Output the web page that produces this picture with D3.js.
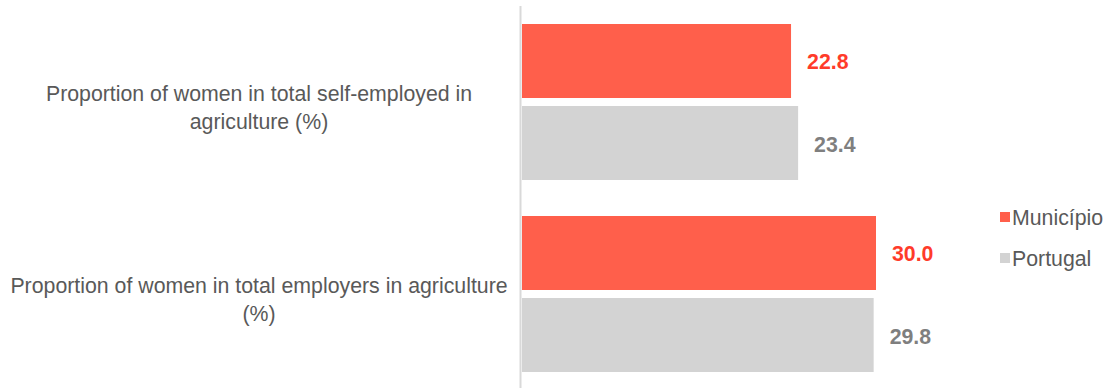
<!DOCTYPE html>
<html>
<head>
<meta charset="utf-8">
<script src="https://cdn.jsdelivr.net/npm/d3@7"></script>
<style>
  body { margin: 0; background: #fff; }
  text { font-family: "Liberation Sans", Arial, sans-serif; }
</style>
</head>
<body>
<script>
//the chart data
let categories = [
	"Proportion of women in total self-employed in agriculture (%)",
	"Proportion of women in total employers in agriculture (%)"
];
let seriesNames = ["Município", "Portugal"];
let municipio = [22.8, 30.0];
let portugal = [23.4, 29.8];

let barColors = ["#ff5f4b", "#d3d3d3"];
let labelColors = ["#ff3b2a", "#7f7f7f"];

let svg = d3.select("body").append("svg")
	.attr("width", 1110)
	.attr("height", 388);

let rows = categories.map((c, i) => ({
	category: c,
	values: [municipio[i], portugal[i]]
}));

//x scale: value to pixels, starts at the axis line
let scaleX = d3.scaleLinear()
	.domain([0, 30])
	.range([522, 876]);

//y scale for the categories
let scaleY = d3.scaleBand()
	.domain(categories)
	.range([6, 390])
	.paddingInner(0.1875)
	.paddingOuter(0.09375);

//inner scale for the two series inside a category
let scaleS = d3.scaleBand()
	.domain(seriesNames)
	.range([0, scaleY.bandwidth()])
	.paddingInner(0.0976);

//vertical axis line
svg.append("line")
	.attr("x1", 520.5).attr("x2", 520.5)
	.attr("y1", scaleY.range()[0]).attr("y2", scaleY.range()[1])
	.attr("stroke", "#d9d9d9")
	.attr("stroke-width", 2);

let groups = svg.selectAll("g.cat").data(rows).enter().append("g")
	.attr("class", "cat")
	.attr("transform", d => `translate(0, ${scaleY(d.category)})`);

groups.selectAll("rect").data(d => d.values).enter().append("rect")
	.attr("x", scaleX(0))
	.attr("y", (v, i) => scaleS(seriesNames[i]))
	.attr("width", v => scaleX(v) - scaleX(0))
	.attr("height", scaleS.bandwidth())
	.attr("fill", (v, i) => barColors[i]);

groups.selectAll("text.val").data(d => d.values).enter().append("text")
	.attr("class", "val")
	.attr("x", v => scaleX(v) + 16)
	.attr("y", (v, i) => scaleS(seriesNames[i]) + scaleS.bandwidth() / 2 + 8.5)
	.attr("font-size", 21.3)
	.attr("font-weight", "bold")
	.attr("fill", (v, i) => labelColors[i])
	.text(v => v.toFixed(1));

//category labels, wrapped to fit
function wrap(label, maxWidth, size) {
	let tmp = svg.append("text").attr("font-size", size);
	let words = label.split(" ");
	let lines = [];
	let line = [];
	words.forEach(w => {
		line.push(w);
		tmp.text(line.join(" "));
		if (tmp.node().getComputedTextLength() > maxWidth && line.length > 1) {
			line.pop();
			lines.push(line.join(" "));
			line = [w];
		}
	});
	lines.push(line.join(" "));
	tmp.remove();
	return lines;
}

groups.each(function(d) {
	let lines = wrap(d.category, 510, 21.3);
	let t = d3.select(this).append("text")
		.attr("text-anchor", "middle")
		.attr("font-size", 21.3)
		.attr("fill", "#595959");
	lines.forEach((l, i) => {
		t.append("tspan")
			.attr("x", 259)
			.attr("y", scaleY.bandwidth() / 2 - 1.5 + i * 28)
			.text(l);
	});
});

//legend
let legend = svg.selectAll("g.legend").data(seriesNames).enter().append("g")
	.attr("class", "legend")
	.attr("transform", (d, i) => `translate(1000, ${217 + i * 41})`);

legend.append("rect")
	.attr("x", 0).attr("y", -5)
	.attr("width", 10).attr("height", 10)
	.attr("fill", (d, i) => barColors[i]);

legend.append("text")
	.attr("x", 12)
	.attr("y", 7.5)
	.attr("font-size", 21.3)
	.attr("fill", "#595959")
	.text(d => d);
</script>
</body>
</html>
